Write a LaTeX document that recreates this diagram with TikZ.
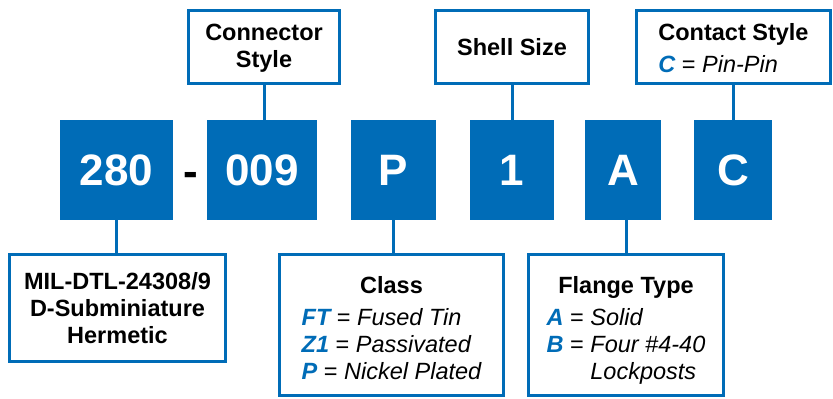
\documentclass[tikz,border=0pt]{standalone}
\usepackage{fontspec}
\setmainfont{Liberation Sans}
\usepackage{xcolor}
\definecolor{codeblue}{RGB}{0,108,183}
\newcommand{\opt}[2]{\mdseries{\color{codeblue}\bfseries\itshape #1} = {\itshape #2}}
\newcommand{\lowered}[2]{\raisebox{0pt}[\dimexpr\height+#1\relax][\depth]{#2}}

\begin{document}
\begin{tikzpicture}[x=1pt, y=-1pt,
    codebox/.style={fill=codeblue, text=white, font=\fontsize{44}{44}\selectfont\bfseries, minimum height=100pt, inner sep=0pt},
    tagbox/.style={draw=codeblue, line width=3pt, fill=white, inner sep=0pt, font=\fontsize{23.5}{27}\selectfont\bfseries, align=center, minimum height=73pt},
    link/.style={draw=codeblue, line width=3pt}]
    \useasboundingbox (0,0) rectangle (833,399);

    % part number
    \node[codebox, minimum width=113pt] (n280) at (116.5,170) {280};
    \node[font=\fontsize{44}{44}\selectfont\bfseries] (dash) at (191,179) {-};
    \node[codebox, minimum width=110pt] (n009) at (262,170) {009};
    \node[codebox, minimum width=85pt] (nP) at (393.5,170) {P};
    \node[codebox, minimum width=84pt] (n1) at (512,170) {1};
    \node[codebox, minimum width=76pt] (nA) at (623,170) {A};
    \node[codebox, minimum width=78pt] (nC) at (733,170) {C};

    % descriptions above
    \node[tagbox, minimum width=151pt] (style) at (264,47) {\lowered{3pt}{\begin{tabular}{@{}c@{}}Connector\\Style\end{tabular}}};
    \node[tagbox, minimum width=153pt] (shell) at (512,47) {Shell Size};
    \node[tagbox, minimum width=194pt] (contact) at (733.5,47) {\lowered{8pt}{\begin{tabular}{@{}l@{}}\multicolumn{1}{@{}c@{}}{Contact Style}\\[5pt] \opt{C}{Pin-Pin}\end{tabular}}};

    % descriptions below
    \node[tagbox, minimum width=216pt, minimum height=107pt] (mil) at (117.5,308) {MIL-DTL-24308/9\\D-Subminiature\\Hermetic};
    \node[tagbox, minimum width=224pt, minimum height=141pt] (class) at (391.5,325) {\lowered{12pt}{\begin{tabular}{@{}l@{}}\multicolumn{1}{@{}c@{}}{Class}\\[5pt] \opt{FT}{Fused Tin}\\ \opt{Z1}{Passivated}\\ \opt{P}{Nickel Plated}\end{tabular}}};
    \node[tagbox, minimum width=195pt, minimum height=141pt] (flange) at (626,325) {\lowered{12pt}{\begin{tabular}{@{}l@{}}\multicolumn{1}{@{}c@{}}{Flange Type}\\[5pt] \opt{A}{Solid}\\ \opt{B}{Four \#4-40}\\ \mdseries\phantom{\textbf{\textit{B}} = }\textit{Lockposts}\end{tabular}}};

    \draw[link] (style.south) -- (style.south |- n009.north);
    \draw[link] (shell.south) -- (shell.south |- n1.north);
    \draw[link] (nC.north) -- (nC.north |- contact.south);
    \draw[link] (n280.south) -- (n280.south |- mil.north);
    \draw[link] (nP.south) -- (nP.south |- class.north);
    \draw[link] (flange.north) -- (flange.north |- nA.south);
\end{tikzpicture}
\end{document}
